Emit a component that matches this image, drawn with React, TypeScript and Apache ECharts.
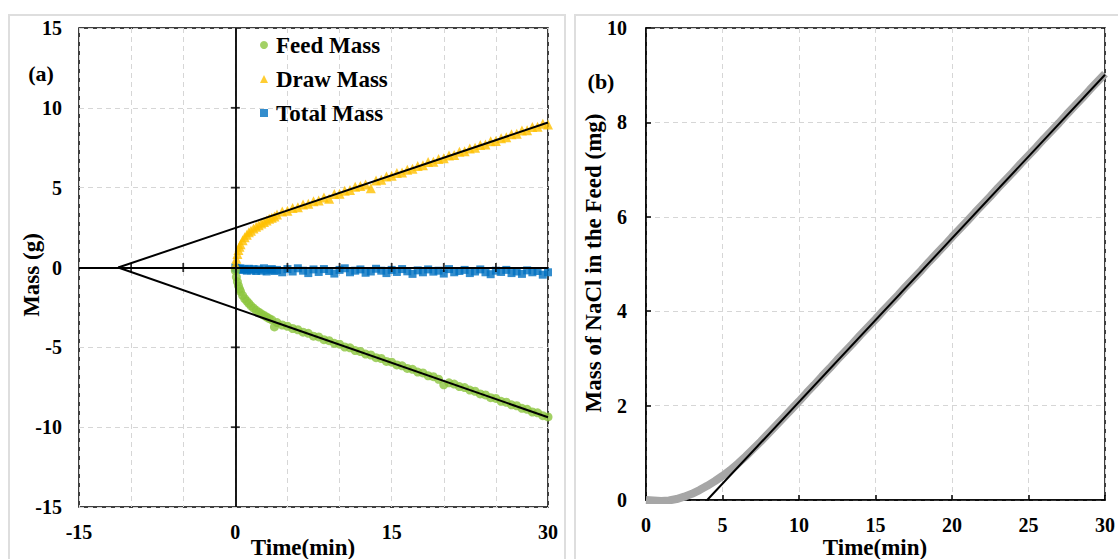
import React, { useEffect, useRef } from "react";
import * as echarts from "echarts";

// ---------- Panel (a) data ----------
const timesA = [0, 0.1, 0.2, 0.3, 0.4, 0.5, 0.7, 0.9, 1.1, 1.3, 1.5, 1.75, 2, 2.25, 2.5, 2.75, 3, 3.25, 3.5, 3.75,
  4, 4.5, 5, 5.5, 6, 6.5, 7, 7.5, 8, 8.5, 9, 9.5, 10, 10.5, 11, 11.5, 12, 12.5, 13, 13.5, 14, 14.5, 15, 15.5,
  16, 16.5, 17, 17.5, 18, 18.5, 19, 19.5, 20, 20.5, 21, 21.5, 22, 22.5, 23, 23.5, 24, 24.5, 25, 25.5, 26, 26.5,
  27, 27.5, 28, 28.5, 29, 29.5, 30];

const feedMass = [-0.2, -0.6, -0.9, -1.15, -1.35, -1.5, -1.75, -1.95, -2.1, -2.25, -2.4, -2.55, -2.68, -2.8, -2.9, -3.0, -3.1, -3.2, -3.28, -3.72,
  -3.45, -3.6, -3.68, -3.82, -3.9, -4.05, -4.12, -4.3, -4.35, -4.52, -4.58, -4.75, -4.8, -4.98, -5.03, -5.2, -5.26, -5.42,
  -5.48, -5.65, -5.7, -5.88, -5.93, -6.1, -6.16, -6.32, -6.38, -6.55, -6.6, -6.78, -6.84, -7.0, -7.35, -7.22, -7.3, -7.46,
  -7.52, -7.68, -7.75, -7.92, -7.98, -8.15, -8.2, -8.38, -8.44, -8.6, -8.66, -8.82, -8.88, -9.05, -9.1, -9.28, -9.36];

const drawMass = [0.2, 0.55, 0.85, 1.1, 1.3, 1.45, 1.7, 1.9, 2.05, 2.2, 2.3, 2.45, 2.55, 2.65, 2.75, 2.85, 2.95, 3.05, 3.12, 3.2,
  3.32, 3.5, 3.55, 3.72, 3.78, 3.95, 4.0, 4.15, 4.2, 4.38, 4.3, 4.6, 4.62, 4.8, 4.85, 5.05, 5.1, 5.2, 4.96, 5.45,
  5.5, 5.7, 5.75, 5.92, 5.95, 6.12, 6.18, 6.35, 6.4, 6.6, 6.62, 6.8, 6.85, 7.02, 7.05, 7.25, 7.28, 7.45, 7.5, 7.68,
  7.7, 7.9, 7.92, 8.1, 8.15, 8.35, 8.38, 8.58, 8.6, 8.8, 8.82, 9.0, 8.95];

const totalMass = [0.0, -0.05, -0.1, -0.08, -0.12, -0.05, -0.15, -0.1, -0.2, -0.08, -0.18, -0.1, -0.22, -0.12, -0.2, -0.05, -0.25, -0.15, -0.1, -0.22,
  -0.15, -0.3, -0.1, -0.25, -0.05, -0.2, -0.35, -0.12, -0.28, -0.1,
  -0.22, -0.38, -0.15, -0.05, -0.3, -0.2, -0.12, -0.33, -0.25, -0.08,
  -0.2, -0.35, -0.15, -0.28, -0.1, -0.24, -0.4, -0.18, -0.3, -0.12,
  -0.26, -0.2, -0.38, -0.1, -0.3, -0.22, -0.15, -0.35, -0.25, -0.12,
  -0.3, -0.42, -0.2, -0.28, -0.15, -0.35, -0.25, -0.4, -0.18, -0.3,
  -0.22, -0.45, -0.3];

const fitTimesA = [-11.24, 30];
const drawFit = [0, 9.08];
const feedFit = [0, -9.38];

const xLabelsA = [-15, 0, 15, 30];
const axisTicksXA = [-10, -5, 5, 10, 15, 20, 25];
const axisTicksYA = [-10, -5, 5, 10];

// ---------- Panel (b) data ----------
const timesB = [0, 0.5, 1, 1.5, 2, 2.5, 3, 3.5, 4, 4.5, 5, 5.5, 6, 6.5, 7, 7.5, 8, 8.5, 9, 9.5, 10, 10.5, 11, 11.5,
  12, 12.5, 13, 13.5, 14, 14.5, 15, 15.5, 16, 16.5, 17, 17.5, 18, 18.5, 19, 19.5, 20, 20.5, 21, 21.5, 22, 22.5,
  23, 23.5, 24, 24.5, 25, 25.5, 26, 26.5, 27, 27.5, 28, 28.5, 29, 29.5, 30];
const naclMass = [0, -0.01, -0.02, -0.01, 0.02, 0.07, 0.13, 0.21, 0.3, 0.4, 0.51, 0.63, 0.77, 0.92, 1.08, 1.24, 1.41, 1.58,
  1.75, 1.92, 2.09, 2.27, 2.44, 2.62, 2.79, 2.97, 3.14, 3.31, 3.49, 3.66, 3.83, 4.01, 4.18, 4.35, 4.53, 4.7, 4.87, 5.05,
  5.22, 5.39, 5.57, 5.74, 5.91, 6.09, 6.26, 6.43, 6.61, 6.78, 6.95, 7.13, 7.3, 7.47, 7.65, 7.82, 7.99, 8.17, 8.34, 8.51,
  8.69, 8.86, 9.03];
const fitTimesB = [4.0, 30];
const naclFit = [0, 9.01];

const zip = (xs: number[], ys: number[]) => xs.map((x, i) => [x, ys[i]]);

const FONT = "'Liberation Serif', 'Times New Roman', serif";
const labelStyle = { fontSize: 20, fontWeight: "bold" as const, fontFamily: FONT, color: "#000" };
const gridLine = { show: true, lineStyle: { color: "#d6d6d6", type: [5, 4] as any, width: 1 } };

function buildOption(): any {
  return {
    animation: false,
    backgroundColor: "#fff",
    grid: [
      { left: 79, top: 28, width: 469, height: 479, show: true, borderColor: "#000", borderWidth: 1.5, backgroundColor: "transparent" },
      { left: 646, top: 28, width: 466, height: 472, show: true, borderColor: "#000", borderWidth: 1.5, backgroundColor: "transparent" },
    ],
    xAxis: [
      {
        gridIndex: 0, type: "value", min: -15, max: 30, interval: 5,
        axisLine: { show: false, onZero: false }, axisTick: { show: false }, splitLine: gridLine,
        axisLabel: { ...labelStyle, margin: 15, showMinLabel: true, showMaxLabel: true,
          formatter: (v: number) => (xLabelsA.includes(v) ? String(v) : "") },
      },
      {
        gridIndex: 1, type: "value", min: 0, max: 30, interval: 5,
        axisLine: { show: true, onZero: false, lineStyle: { color: "#000", width: 1.5 } },
        axisTick: { show: true, inside: true, length: 5, lineStyle: { color: "#000", width: 1.5 } },
        splitLine: gridLine,
        axisLabel: { ...labelStyle, margin: 15, showMinLabel: true, showMaxLabel: true },
      },
    ],
    yAxis: [
      {
        gridIndex: 0, type: "value", min: -15, max: 15, interval: 5,
        axisLine: { show: false, onZero: false }, axisTick: { show: false }, splitLine: gridLine,
        axisLabel: { ...labelStyle, margin: 17, showMinLabel: true, showMaxLabel: true },
      },
      {
        gridIndex: 1, type: "value", min: 0, max: 10, interval: 2,
        axisLine: { show: true, onZero: false, lineStyle: { color: "#000", width: 1.5 } },
        axisTick: { show: true, inside: true, length: 5, lineStyle: { color: "#000", width: 1.5 } },
        splitLine: gridLine,
        axisLabel: { ...labelStyle, margin: 19, showMinLabel: true, showMaxLabel: true },
      },
    ],
    legend: {
      orient: "vertical", left: 255, top: 28, itemWidth: 8, itemHeight: 8, itemGap: 10,
      data: ["Feed Mass", "Draw Mass", "Total Mass"],
      textStyle: { fontSize: 23, fontWeight: "bold", fontFamily: FONT, color: "#000", padding: [0, 0, 0, 3], lineHeight: 24 },
    },
    series: [
      {
        name: "axesZero", type: "scatter", xAxisIndex: 0, yAxisIndex: 0, silent: true,
        symbol: "rect", symbolSize: [1.8, 9], itemStyle: { color: "#000" },
        data: axisTicksXA.map((t) => [t, 0]), z: 4,
        markLine: {
          silent: true, symbol: "none", label: { show: false },
          lineStyle: { color: "#000", type: "solid", width: 1.8 },
          data: [{ xAxis: 0 }, { yAxis: 0 }],
        },
      },
      {
        name: "axesZeroY", type: "scatter", xAxisIndex: 0, yAxisIndex: 0, silent: true,
        symbol: "rect", symbolSize: [9, 1.8], itemStyle: { color: "#000" },
        data: axisTicksYA.map((v) => [0, v]), z: 4,
      },
      {
        name: "Total Mass", type: "scatter", xAxisIndex: 0, yAxisIndex: 0,
        symbol: "rect", symbolSize: 8, itemStyle: { color: "#0070C0" },
        data: zip(timesA, totalMass), z: 2,
      },
      {
        name: "Feed Mass", type: "scatter", xAxisIndex: 0, yAxisIndex: 0,
        symbol: "circle", symbolSize: 9, itemStyle: { color: "#8CC63F" },
        data: zip(timesA, feedMass), z: 2,
      },
      {
        name: "Draw Mass", type: "scatter", xAxisIndex: 0, yAxisIndex: 0,
        symbol: "triangle", symbolSize: 10, itemStyle: { color: "#FFC000" },
        data: zip(timesA, drawMass), z: 2,
      },
      {
        name: "drawFit", type: "line", xAxisIndex: 0, yAxisIndex: 0, showSymbol: false, silent: true,
        lineStyle: { color: "#000", width: 2 }, data: zip(fitTimesA, drawFit), z: 5,
      },
      {
        name: "feedFit", type: "line", xAxisIndex: 0, yAxisIndex: 0, showSymbol: false, silent: true,
        lineStyle: { color: "#000", width: 2 }, data: zip(fitTimesA, feedFit), z: 5,
      },
      {
        name: "NaCl", type: "line", xAxisIndex: 1, yAxisIndex: 1, showSymbol: false, silent: true,
        lineStyle: { color: "#A6A6A6", width: 8 }, data: zip(timesB, naclMass), z: 2,
      },
      {
        name: "naclFit", type: "line", xAxisIndex: 1, yAxisIndex: 1, showSymbol: false, silent: true,
        lineStyle: { color: "#000", width: 2 }, data: zip(fitTimesB, naclFit), z: 5,
      },
    ],
    graphic: [
      { type: "rect", z: -10, shape: { x: 9, y: 15, width: 556, height: 600 }, style: { fill: "none", stroke: "#dedede", lineWidth: 2 } },
      { type: "rect", z: -10, shape: { x: 575, y: 15, width: 600, height: 600 }, style: { fill: "none", stroke: "#dedede", lineWidth: 2 } },
      { type: "text", x: 41, y: 73, style: { text: "(a)", font: `bold 22px ${FONT}`, fill: "#000", align: "center", verticalAlign: "middle" } },
      { type: "text", x: 601, y: 81, style: { text: "(b)", font: `bold 22px ${FONT}`, fill: "#000", align: "center", verticalAlign: "middle" } },
      { type: "text", x: 303, y: 547, style: { text: "Time(min)", font: `bold 23px ${FONT}`, fill: "#000", align: "center", verticalAlign: "middle" } },
      { type: "text", x: 875, y: 547, style: { text: "Time(min)", font: `bold 23px ${FONT}`, fill: "#000", align: "center", verticalAlign: "middle" } },
      { type: "text", x: 31, y: 275, rotation: Math.PI / 2, style: { text: "Mass (g)", font: `bold 23px ${FONT}`, fill: "#000", align: "center", verticalAlign: "middle" } },
      { type: "text", x: 593, y: 263, rotation: Math.PI / 2, style: { text: "Mass of NaCl in the Feed (mg)", font: `bold 23px ${FONT}`, fill: "#000", align: "center", verticalAlign: "middle" } },
    ],
  };
}

export default function App() {
  const ref = useRef<HTMLDivElement>(null);
  useEffect(() => {
    if (!ref.current) return;
    const chart = echarts.init(ref.current, null, { renderer: "svg", width: 1118, height: 559 });
    chart.setOption(buildOption());
    return () => chart.dispose();
  }, []);
  return <div ref={ref} style={{ position: "absolute", left: 0, top: 0, width: 1118, height: 559 }} />;
}
